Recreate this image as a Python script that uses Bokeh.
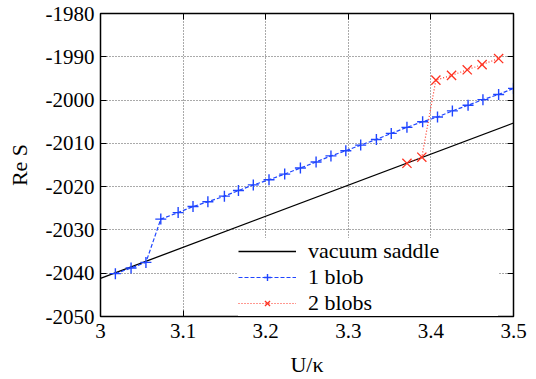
from bokeh.plotting import figure
from bokeh.models import Range1d, LinearAxis, FixedTicker, Legend, LegendItem
from bokeh.embed import file_html
from bokeh.resources import INLINE

# ---- data ----
x_ticks = [3.0, 3.1, 3.2, 3.3, 3.4, 3.5]
x_tick_labels = ["3", "3.1", "3.2", "3.3", "3.4", "3.5"]
y_ticks = [-2050, -2040, -2030, -2020, -2010, -2000, -1990, -1980]
y_tick_labels = ["-2050", "-2040", "-2030", "-2020", "-2010", "-2000", "-1990", "-1980"]

vac_x = [3.0, 3.5]
vac_y = [-2041.2, -2005.3]

blob1_x = [3.018, 3.037, 3.055, 3.073, 3.094, 3.112, 3.130, 3.150, 3.167, 3.185,
           3.204, 3.223, 3.242, 3.261, 3.279, 3.297, 3.315, 3.334, 3.352, 3.371,
           3.390, 3.408, 3.426, 3.445, 3.463, 3.482, 3.500]
blob1_y = [-2040.1, -2038.8, -2037.5, -2027.5, -2026.0, -2024.6, -2023.5, -2022.2,
           -2020.9, -2019.6, -2018.4, -2017.1, -2015.7, -2014.3, -2012.9, -2011.7,
           -2010.4, -2009.1, -2007.7, -2006.3, -2005.0, -2003.9, -2002.5, -2001.2,
           -1999.9, -1998.7, -1997.3]

blob2_x = [3.371, 3.389, 3.406, 3.425, 3.444, 3.462, 3.482]
blob2_y = [-2014.6, -2013.2, -1995.4, -1994.3, -1993.0, -1991.8, -1990.4]

labels = ["vacuum saddle", "1 blob", "2 blobs"]

FONT = "Liberation Serif"
FS_TICK = "21px"
FS = "22px"

p = figure(width=536, height=379, output_backend="svg", toolbar_location=None,
           x_range=Range1d(3.0, 3.5), y_range=Range1d(-2050, -1980),
           min_border_left=100, min_border_right=23, min_border_top=13,
           min_border_bottom=63, x_axis_label="U/κ", y_axis_label="Re S")

p.outline_line_color = "black"
p.outline_line_width = 1.5
p.background_fill_color = "white"
p.border_fill_color = "white"

for ax in (p.xaxis[0], p.yaxis[0]):
    ax.major_tick_in = 6
    ax.major_tick_out = 0
    ax.minor_tick_line_color = None
    ax.axis_line_color = "black"
    ax.major_tick_line_color = "black"
    ax.major_label_text_font = FONT
    ax.major_label_text_font_size = FS_TICK
    ax.major_label_text_font_style = "normal"
    ax.major_label_text_color = "black"
    ax.axis_label_text_font = FONT
    ax.axis_label_text_font_size = FS
    ax.axis_label_text_font_style = "normal"
    ax.axis_label_text_color = "black"

p.xaxis[0].ticker = FixedTicker(ticks=x_ticks)
p.yaxis[0].ticker = FixedTicker(ticks=y_ticks)
p.xaxis[0].major_label_overrides = dict(zip(x_ticks, x_tick_labels))
p.yaxis[0].major_label_overrides = dict(zip(y_ticks, y_tick_labels))
p.xaxis[0].major_label_standoff = 7
p.yaxis[0].major_label_standoff = 6
p.xaxis[0].axis_label_standoff = 11
p.yaxis[0].axis_label_standoff = 11

# mirror axes (ticks only)
top = LinearAxis(ticker=FixedTicker(ticks=x_ticks))
right = LinearAxis(ticker=FixedTicker(ticks=y_ticks))
top.major_label_overrides = {t: "" for t in x_ticks}
right.major_label_overrides = {t: "" for t in y_ticks}
for ax in (top, right):
    ax.major_tick_in = 6
    ax.major_tick_out = 0
    ax.minor_tick_line_color = None
    ax.major_label_standoff = 0
    ax.major_label_text_font_size = "1px"
    ax.axis_line_color = "black"
    ax.major_tick_line_color = "black"
p.add_layout(top, "above")
p.add_layout(right, "right")

p.xgrid.ticker = FixedTicker(ticks=x_ticks)
p.ygrid.ticker = FixedTicker(ticks=y_ticks)
for g in (p.xgrid, p.ygrid):
    g.grid_line_color = "#555555"
    g.grid_line_dash = "1 2"
    g.grid_line_width = 1

blue = "#1f45ff"
red = "#ff3322"

r_vac = p.line(vac_x, vac_y, line_color="black", line_width=1.3)
r_b1l = p.line(blob1_x, blob1_y, line_color=blue, line_width=1.2, line_dash="4 2")
r_b1m = p.scatter(blob1_x, blob1_y, marker="cross", size=11, line_color=blue, line_width=1.4)
r_b2l = p.line(blob2_x, blob2_y, line_color=red, line_width=1.2, line_dash="1 2")
r_b2m = p.scatter(blob2_x, blob2_y, marker="x", size=13, line_color=red, line_width=1.3)

legend = Legend(items=[
    LegendItem(label=labels[0], renderers=[r_vac]),
    LegendItem(label=labels[1], renderers=[r_b1l, r_b1m]),
    LegendItem(label=labels[2], renderers=[r_b2l, r_b2m]),
], location=(138, 0))
legend.label_text_font = FONT
legend.label_text_font_size = FS
legend.label_text_font_style = "normal"
legend.label_text_color = "black"
legend.border_line_alpha = 0
legend.background_fill_color = "white"
legend.background_fill_alpha = 1
legend.glyph_width = 58
legend.glyph_height = 18
legend.label_height = 18
legend.label_width = 190
legend.spacing = -2
legend.padding = 0
legend.margin = 0
legend.label_standoff = 12
p.add_layout(legend, "center")

open("out.html", "w").write(file_html(p, INLINE))
